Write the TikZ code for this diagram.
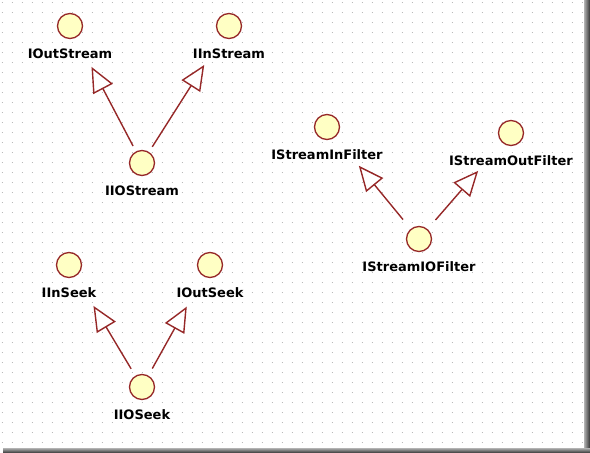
\documentclass[tikz,border=0pt]{standalone}
\usepackage{fontspec}
\setsansfont{DejaVu Sans}
\usetikzlibrary{positioning,arrows.meta}
\definecolor{umlred}{RGB}{150,40,40}
\definecolor{umlfill}{RGB}{255,255,196}
\definecolor{griddot}{RGB}{185,185,185}

\begin{document}
\begin{tikzpicture}[x=1pt, y=-1pt,
  iface/.style={circle, draw=umlred, fill=umlfill, line width=1.3pt, minimum size=25pt, inner sep=0pt},
  ifacename/.style={font=\sffamily\bfseries\fontsize{13}{15}\selectfont, inner sep=0pt, below=9.5pt of #1},
  realize/.style={draw=umlred, line width=1.4pt, -{Triangle[length=25pt, width=22pt, fill=white]}}]
  \useasboundingbox (0,0) rectangle (590,453);
  \fill[white] (0,0) rectangle (590,453);

  % dotted grid and frame shadow
  \foreach \y in {2,12,...,442}
    \draw[griddot, line width=1pt, dash pattern=on 1pt off 9pt] (1.5,\y) -- (583,\y);
  \shade[left color=gray!60, right color=black!80] (584,0) rectangle (590,453);
  \shade[top color=gray!60, bottom color=black!80] (3,448) rectangle (590,453);

  % stream interfaces
  \node[iface] (outstream) at (70,26) {};
  \node[iface] (instream) at (229,26) {};
  \node[iface] (iostream) at (142,163) {};
  \node[ifacename=outstream] (outstreamname) {IOutStream};
  \node[ifacename=instream] (instreamname) {IInStream};
  \node[ifacename=iostream] (iostreamname) {IIOStream};

  % filter interfaces
  \node[iface] (infilter) at (327,127) {};
  \node[iface] (outfilter) at (511,133) {};
  \node[iface] (iofilter) at (419,239) {};
  \node[ifacename=infilter] (infiltername) {IStreamInFilter};
  \node[ifacename=outfilter] (outfiltername) {IStreamOutFilter};
  \node[ifacename=iofilter] (iofiltername) {IStreamIOFilter};

  % seek interfaces
  \node[iface] (inseek) at (69,265) {};
  \node[iface] (outseek) at (210,265) {};
  \node[iface] (ioseek) at (142,387) {};
  \node[ifacename=inseek] (inseekname) {IInSeek};
  \node[ifacename=outseek] (outseekname) {IOutSeek};
  \node[ifacename=ioseek] (ioseekname) {IIOSeek};

  \draw[realize, shorten <=6pt, shorten >=33pt] (iostream) -- (outstream);
  \draw[realize, shorten <=6pt, shorten >=33pt] (iostream) -- (instream);
  \draw[realize, shorten <=12pt, shorten >=37pt] (iofilter) -- (infilter);
  \draw[realize, shorten <=12pt, shorten >=37pt] (iofilter) -- (outfilter);
  \draw[realize, shorten <=8pt, shorten >=34.5pt] (ioseek) -- (inseek);
  \draw[realize, shorten <=8pt, shorten >=34.5pt] (ioseek) -- (outseek);
\end{tikzpicture}
\end{document}
